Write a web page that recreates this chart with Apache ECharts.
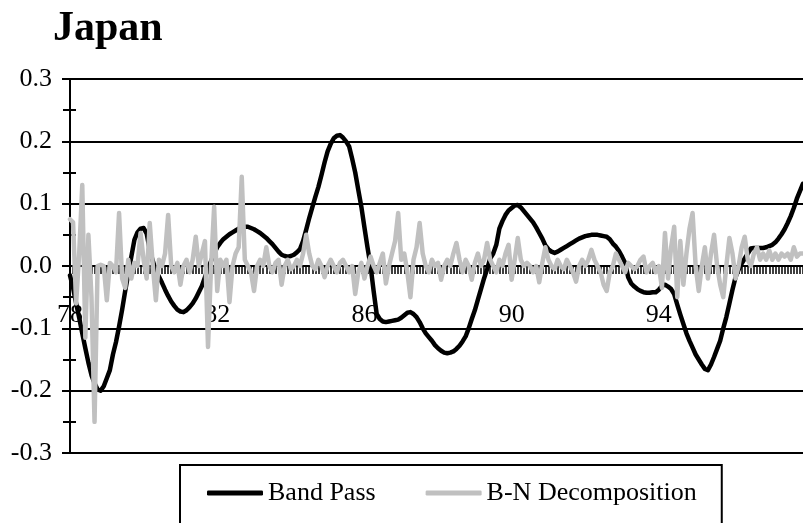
<!DOCTYPE html>
<html>
<head>
<meta charset="utf-8">
<script src="https://cdn.jsdelivr.net/npm/echarts@6/dist/echarts.min.js"></script>
<style>
html,body{margin:0;padding:0;background:#fff;}
#chart{width:803px;height:523px;}
</style>
</head>
<body>
<div id="chart"></div>
<script>
// Monthly observations, Jan 1978 - Dec 1997
const startYear = 1978;
const endYear = 1997;
const yearTickLabels = ['78', '82', '86', '90', '94'];
const yTickValues = [-0.3, -0.2, -0.1, 0.0, 0.1, 0.2, 0.3];

const bandPass = [
 -0.015,-0.035,-0.060,-0.083,-0.108,-0.132,-0.155,-0.175,-0.188,-0.198,
 -0.200,-0.193,-0.180,-0.167,-0.142,-0.122,-0.097,-0.070,-0.040,-0.012,
  0.015, 0.042, 0.054, 0.060, 0.061, 0.052, 0.026, 0.008,-0.008,-0.017,
 -0.027,-0.038,-0.048,-0.057,-0.064,-0.070,-0.073,-0.074,-0.071,-0.066,
 -0.060,-0.052,-0.042,-0.032,-0.018,-0.004, 0.008, 0.020, 0.030, 0.037,
  0.043, 0.047, 0.051, 0.054, 0.057, 0.060, 0.062, 0.063, 0.063, 0.061,
  0.059, 0.056, 0.053, 0.049, 0.045, 0.040, 0.035, 0.029, 0.023, 0.018,
  0.016, 0.015, 0.016, 0.018, 0.022, 0.027, 0.040, 0.058, 0.077, 0.094,
  0.111, 0.127, 0.146, 0.166, 0.184, 0.196, 0.205, 0.209, 0.210, 0.206,
  0.200, 0.192, 0.172, 0.150, 0.122, 0.095, 0.062, 0.030, 0.000,-0.040,
 -0.077,-0.085,-0.089,-0.090,-0.089,-0.088,-0.087,-0.086,-0.083,-0.079,
 -0.075,-0.074,-0.077,-0.082,-0.090,-0.100,-0.108,-0.114,-0.120,-0.127,
 -0.132,-0.136,-0.139,-0.140,-0.139,-0.137,-0.133,-0.128,-0.121,-0.113,
 -0.100,-0.085,-0.071,-0.054,-0.037,-0.020,-0.005, 0.012, 0.020, 0.034,
  0.060, 0.072, 0.082, 0.089, 0.093, 0.097, 0.098, 0.094, 0.088, 0.082,
  0.076, 0.070, 0.062, 0.053, 0.044, 0.033, 0.027, 0.023, 0.021, 0.023,
  0.026, 0.029, 0.032, 0.035, 0.038, 0.041, 0.044, 0.046, 0.048, 0.049,
  0.050, 0.050, 0.050, 0.049, 0.048, 0.047, 0.043, 0.036, 0.031, 0.024,
  0.015, 0.005,-0.018,-0.028,-0.033,-0.037,-0.040,-0.042,-0.043,-0.043,
 -0.042,-0.042,-0.038,-0.032,-0.030,-0.033,-0.037,-0.045,-0.062,-0.078,
 -0.093,-0.108,-0.120,-0.131,-0.142,-0.150,-0.158,-0.165,-0.167,-0.158,
 -0.146,-0.133,-0.120,-0.100,-0.082,-0.060,-0.038,-0.018,-0.006, 0.004,
  0.012, 0.020, 0.028, 0.029, 0.029, 0.029, 0.029, 0.030, 0.032, 0.034,
  0.038, 0.044, 0.051, 0.059, 0.069, 0.080, 0.093, 0.108, 0.120, 0.132
];

const bnDecomp = [
  0.075, 0.070,-0.060, 0.020, 0.130,-0.115, 0.050,-0.050,-0.250, 0.000,
  0.002, 0.000,-0.055, 0.005, 0.000,-0.010, 0.085,-0.020,-0.035, 0.010,
 -0.020, 0.005, 0.000, 0.053, 0.010,-0.020, 0.069, 0.000,-0.055, 0.010,
  0.000, 0.020, 0.082, 0.000,-0.010, 0.005,-0.030, 0.000, 0.010,-0.010,
  0.010, 0.047, 0.000, 0.020, 0.040,-0.130, 0.000, 0.095,-0.040, 0.010,
  0.000, 0.010,-0.058, 0.000, 0.020, 0.030, 0.143, 0.010, 0.000,-0.010,
 -0.040, 0.000, 0.010, 0.000, 0.030, 0.000,-0.010, 0.005, 0.010,-0.030,
  0.000, 0.010,-0.005, 0.000, 0.010, 0.000, 0.020, 0.050, 0.020, 0.000,
 -0.005, 0.010, 0.000,-0.018, 0.000, 0.010, 0.000,-0.010, 0.005, 0.010,
  0.000,-0.010, 0.000,-0.045,-0.010, 0.005,-0.020, 0.000, 0.015, 0.000,
 -0.010, 0.005, 0.020,-0.028, 0.000, 0.020, 0.040, 0.085, 0.010, 0.020,
 -0.010,-0.050, 0.010, 0.030, 0.069, 0.020, 0.000,-0.010, 0.010, 0.000,
  0.005,-0.022, 0.000, 0.010, 0.000, 0.020, 0.037, 0.010,-0.010, 0.010,
  0.000,-0.022, 0.005, 0.020, 0.000, 0.010, 0.037, 0.010, 0.000,-0.010,
  0.010, 0.000, 0.020, 0.034,-0.022, 0.010, 0.045, 0.010, 0.000, 0.005,
  0.000,-0.010, 0.000,-0.026, 0.005, 0.030, 0.010, 0.000,-0.005, 0.010,
  0.000,-0.005, 0.010, 0.000,-0.010,-0.025, 0.000, 0.010, 0.000, 0.010,
  0.026, 0.010, 0.000,-0.010,-0.030,-0.040,-0.010, 0.000, 0.020, 0.010,
  0.000,-0.010, 0.005, 0.000,-0.005, 0.000, 0.010, 0.015,-0.010, 0.000,
  0.005,-0.010, 0.000,-0.035, 0.053,-0.020, 0.030, 0.063,-0.050, 0.040,
 -0.030, 0.020, 0.060, 0.085, 0.000,-0.040, 0.000, 0.030,-0.020, 0.020,
  0.050, 0.000,-0.030,-0.050, 0.000, 0.045, 0.020,-0.020, 0.000, 0.030,
  0.047, 0.010, 0.000, 0.020, 0.030, 0.010, 0.020, 0.010, 0.025, 0.010,
  0.020, 0.010, 0.020, 0.015, 0.020, 0.010, 0.030, 0.015, 0.020, 0.020
];

const months = [];
for (let y = startYear; y <= endYear; y++) {
  for (let m = 1; m <= 12; m++) {
    months.push(String(y).slice(2) + '.' + (m < 10 ? '0' + m : m));
  }
}

const FONT = '"Liberation Serif", "Times New Roman", serif';
const yMin = yTickValues[0], yMax = yTickValues[yTickValues.length - 1];
const gridTop = 79, gridBottom = 70, plotH = 523 - gridTop - gridBottom;
// distance from the bottom of the plot up to the zero line, derived from the scale
const zeroOffset = plotH * (0 - yMin) / (yMax - yMin);

const yearLabel = function (v) {
  const lab = v.slice(0, 2);
  return yearTickLabels.indexOf(lab) >= 0 ? lab : '';
};

const chart = echarts.init(document.getElementById('chart'), null, {renderer: 'canvas'});
chart.setOption({
  animation: false,
  backgroundColor: '#fff',
  textStyle: {fontFamily: FONT, color: '#000'},
  title: {
    text: 'Japan',
    left: 53, top: 8, padding: 0,
    textStyle: {fontFamily: FONT, fontWeight: 'bold', fontSize: 42, color: '#000'}
  },
  grid: {left: 70, right: -4, top: gridTop, bottom: gridBottom, containLabel: false},
  legend: {
    data: ['Band Pass', 'B-N Decomposition'],
    left: 180, top: 465,
    padding: [15, 25, 40, 27],
    borderColor: '#000', borderWidth: 2,
    itemWidth: 56, itemHeight: 5, itemGap: 50,
    icon: 'roundRect',
    textStyle: {fontFamily: FONT, fontSize: 26, color: '#000', padding: [0,0,0,0]}
  },
  xAxis: [{
    type: 'category',
    data: months,
    boundaryGap: false,
    axisLine: {onZero: true, lineStyle: {color: '#000', width: 2}},
    axisTick: {show: true, interval: 0, length: 8, lineStyle: {color: '#000', width: 1.5}},
    axisLabel: {show: false},
    splitLine: {show: false}
  }, {
    type: 'category',
    data: months,
    boundaryGap: false,
    position: 'bottom',
    offset: -zeroOffset,
    axisLine: {show: false, onZero: false},
    axisTick: {show: false},
    axisLabel: {
      interval: 47, margin: 36,
      fontFamily: FONT, fontSize: 26, color: '#000',
      formatter: yearLabel
    },
    splitLine: {show: false}
  }],
  yAxis: [{
    type: 'value',
    min: yMin, max: yMax, interval: 0.1,
    axisLine: {show: true, onZero: false, lineStyle: {color: '#000', width: 2}},
    axisTick: {show: true, length: 8, lineStyle: {color: '#000', width: 2}},
    minorTick: {show: true, splitNumber: 2, length: 7, lineStyle: {color: '#000', width: 2}},
    axisLabel: {
      margin: 18, fontFamily: FONT, fontSize: 26, color: '#000',
      formatter: function (v) { return (Math.round(v * 10) / 10).toFixed(1); }
    },
    splitLine: {show: true, lineStyle: {color: '#000', width: 2}}
  }, {
    type: 'value', position: 'left',
    min: yMin, max: yMax, interval: 0.05,
    axisLine: {show: false},
    axisTick: {show: true, inside: true, length: 6, lineStyle: {color: '#000', width: 2}},
    axisLabel: {show: false},
    splitLine: {show: false}
  }],
  series: [{
    name: 'Band Pass',
    type: 'line',
    data: bandPass,
    showSymbol: false,
    symbol: 'none',
    itemStyle: {color: '#000'},
    lineStyle: {color: '#000', width: 4.5, cap: 'round', join: 'round'},
    z: 3
  }, {
    name: 'B-N Decomposition',
    type: 'line',
    data: bnDecomp,
    showSymbol: false,
    symbol: 'none',
    itemStyle: {color: '#c0c0c0'},
    lineStyle: {color: '#c0c0c0', width: 4.5, cap: 'round', join: 'round'},
    z: 4
  }]
});
</script>
</body>
</html>
